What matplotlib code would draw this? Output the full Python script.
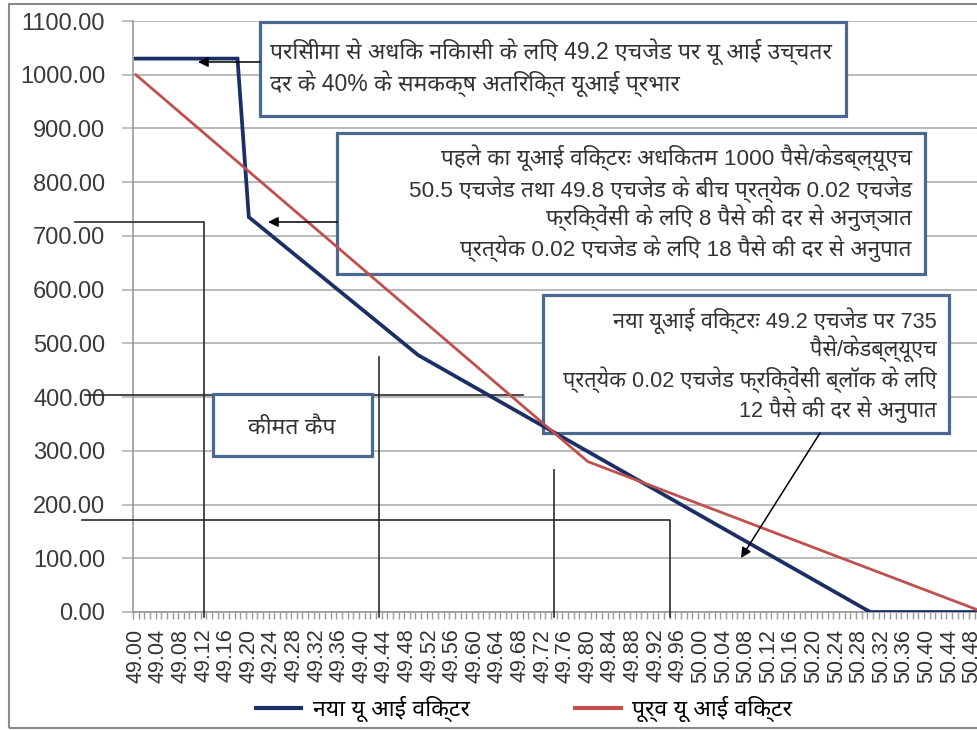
import matplotlib
matplotlib.use('Agg')
import matplotlib.pyplot as plt
from matplotlib.patches import Rectangle

# ---------------- data ----------------
new_freq = [49.00, 49.18, 49.20, 49.50, 50.30, 50.50]
new_vals = [1030, 1030, 735, 478, 0, 0]
old_freq = [49.00, 49.80, 50.50]
old_vals = [1000, 280, 0]

y_ticks = [0, 100, 200, 300, 400, 500, 600, 700, 800, 900, 1000, 1100]
x_label_pos = [49.00, 49.04, 49.08, 49.12, 49.16, 49.20, 49.24, 49.28, 49.32,
               49.36, 49.40, 49.44, 49.48, 49.52, 49.56, 49.60, 49.64, 49.68,
               49.72, 49.76, 49.80, 49.84, 49.88, 49.92, 49.96, 50.00, 50.04,
               50.08, 50.12, 50.16, 50.20, 50.24, 50.28, 50.32, 50.36, 50.40,
               50.44, 50.48]
x_labels = ['49.00', '49.04', '49.08', '49.12', '49.16', '49.20', '49.24',
            '49.28', '49.32', '49.36', '49.40', '49.44', '49.48', '49.52',
            '49.56', '49.60', '49.64', '49.68', '49.72', '49.76', '49.80',
            '49.84', '49.88', '49.92', '49.96', '50.00', '50.04', '50.08',
            '50.12', '50.16', '50.20', '50.24', '50.28', '50.32', '50.36',
            '50.40', '50.44', '50.48']

legend_new = 'नया यू आई विक्टर'
legend_old = 'पूर्व यू आई विक्टर'
box1_lines = ['परिसीमा से अधिक निकासी के लिए 49.2 एचजेड पर यू आई उच्चतर',
              'दर के 40% के समकक्ष अतिरिक्त यूआई प्रभार']
box2_lines = ['पहले का यूआई विक्टरः अधिकतम 1000 पैसे/केडब्ल्यूएच',
              '50.5 एचजेड तथा 49.8 एचजेड के बीच प्रत्येक 0.02 एचजेड',
              'फ्रिक्वेंसी के लिए 8 पैसे की दर से अनुज्ञात',
              'प्रत्येक 0.02 एचजेड के लिए 18 पैसे की दर से अनुपात']
box3_lines = ['नया यूआई विक्टरः 49.2 एचजेड पर 735',
              'पैसे/केडब्ल्यूएच',
              'प्रत्येक 0.02 एचजेड फ्रिक्वेंसी ब्लॉक के लिए',
              '12 पैसे की दर से अनुपात']
box4_text = 'कीमत कैप'

# ---------------- style ----------------
FAM = ['Liberation Sans', 'Noto Sans Devanagari', 'Hind', 'Mukta', 'FreeSans', 'DejaVu Sans']
plt.rcParams['font.family'] = FAM

W, H = 977, 730
fig = plt.figure(figsize=(W / 100, H / 100), dpi=100)


def fx(x):
    return x / W


def fy(y):
    return 1 - y / H


ax_left, ax_right, ax_top, ax_bot = 133, 986, 21, 612
ax = fig.add_axes([fx(ax_left), fy(ax_bot), (ax_right - ax_left) / W, (ax_bot - ax_top) / H])

NAVY = '#1b2f66'
RED = '#c0504d'
BOXC = '#4a6890'
GRID = '#b4b4b4'
TXT = '#333333'

ax.plot(new_freq, new_vals, color=NAVY, lw=2.7, zorder=4, label=legend_new, solid_joinstyle='miter')
ax.plot(old_freq, old_vals, color=RED, lw=2.0, zorder=4, label=legend_old)

ax.set_xlim(48.995, 50.505)
ax.set_ylim(0, 1100)
ax.set_yticks(y_ticks)
ax.set_yticklabels(['%.2f' % v for v in y_ticks])
ax.grid(axis='y', color=GRID, lw=1.3)
ax.set_axisbelow(True)

ax.set_xticks(x_label_pos)
ax.set_xticklabels(x_labels, rotation=90, fontsize=15.5, color=TXT)
minor = [48.995 + 0.01 * k for k in range(152)]
ax.set_xticks(minor, minor=True)
ax.tick_params(axis='x', which='major', length=0, pad=12)
ax.tick_params(axis='x', which='minor', length=5, width=1, color='#999999', direction='out')
ax.tick_params(axis='y', length=8, width=1.2, color=GRID, labelsize=17, labelcolor='#3a3a3a', pad=12)

for s in ['top', 'right']:
    ax.spines[s].set_visible(False)
ax.spines['left'].set_color('#999999')
ax.spines['bottom'].set_color('#999999')
ax.spines['left'].set_linewidth(1.2)
ax.spines['bottom'].set_linewidth(1.2)

# ---------------- reference lines (data coords) ----------------
ref_kw = dict(color='#2a2a2a', lw=1.2, clip_on=False, zorder=3)
ax.plot([48.893, 49.12, 49.12], [726, 726, -10], **ref_kw)
ax.plot([48.91, 49.685], [404, 404], **ref_kw)
ax.plot([49.43, 49.43], [475, -10], **ref_kw)
ax.plot([48.905, 49.945, 49.945], [171, 171, -10], **ref_kw)
ax.plot([49.74, 49.74], [265, -10], **ref_kw)

# ---------------- boxes ----------------
def box(x0, y0, x1, y1):
    r = Rectangle((fx(x0), fy(y1)), fx(x1) - fx(x0), fy(y0) - fy(y1),
                  transform=fig.transFigure, facecolor='white', edgecolor=BOXC,
                  lw=2.3, zorder=3.5, clip_on=False)
    ax.add_patch(r)

box(260, 22, 846, 116)
box(337, 133, 925, 274)
box(543, 295, 949, 433)
box(213, 394, 372, 456)

FS = 16.5
for i, t in enumerate(box1_lines):
    fig.text(fx(270), fy(52 + i * 32), t, fontsize=FS, color=TXT, ha='left', va='center', zorder=6)
for t, yy in zip(box2_lines, [158, 190, 218, 249]):
    fig.text(fx(912), fy(yy), t, fontsize=16.2, color=TXT, ha='right', va='center', zorder=6)
for t, yy in zip(box3_lines, [321, 349, 380, 410]):
    fig.text(fx(937), fy(yy), t, fontsize=15.6, color=TXT, ha='right', va='center', zorder=6)
fig.text(fx(292), fy(427), box4_text, fontsize=FS, color=TXT, ha='center', va='center', zorder=6)

# ---------------- arrows ----------------
arw = dict(arrowstyle='-|>', color='black', lw=1.1, mutation_scale=15, shrinkA=0, shrinkB=0)
ax.annotate('', xy=(fx(198), fy(62)), xycoords='figure fraction',
            xytext=(fx(260), fy(62)), textcoords='figure fraction', arrowprops=arw, zorder=5)
ax.annotate('', xy=(fx(268), fy(222)), xycoords='figure fraction',
            xytext=(fx(337), fy(222)), textcoords='figure fraction', arrowprops=arw, zorder=5)
ax.annotate('', xy=(fx(741), fy(558)), xycoords='figure fraction',
            xytext=(fx(820), fy(433)), textcoords='figure fraction', arrowprops=arw, zorder=5)

# ---------------- legend ----------------
leg = fig.legend(loc='center', bbox_to_anchor=(fx(524), fy(709)), ncol=2, frameon=False,
                 prop={'size': 16.5, 'weight': 'bold', 'family': FAM},
                 handlelength=2.0, handletextpad=0.5, columnspacing=4.6)
for line in leg.get_lines():
    line.set_linewidth(3)

# ---------------- outer border ----------------
fig.add_artist(Rectangle((fx(9), fy(728)), 1.2, fy(4) - fy(728), transform=fig.transFigure,
                         facecolor='none', edgecolor='#8a8a8a', lw=1.5))

fig.savefig('out.png', dpi=100)
